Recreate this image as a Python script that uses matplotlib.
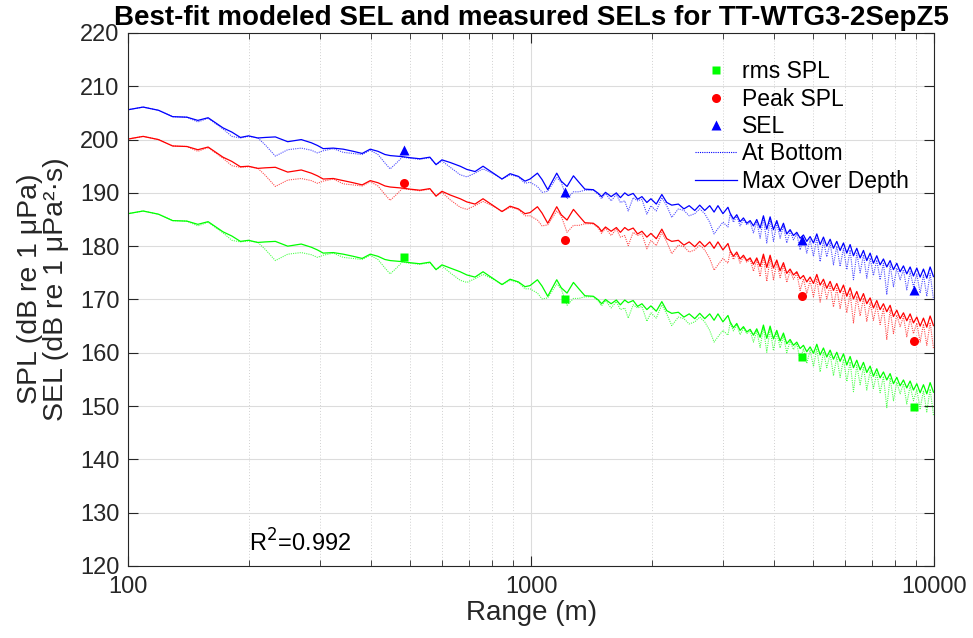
import matplotlib.pyplot as plt
from matplotlib.lines import Line2D
from matplotlib.ticker import FixedLocator, NullFormatter

# modeled range grid (m)
range_m = [
    100, 109, 119, 129, 140, 149, 158, 172, 181, 190,
    199, 210, 219, 232, 249, 269, 285, 295, 305, 323,
    342, 362, 381, 399, 417, 434, 447, 462, 479, 501, 530, 561, 581, 601,
    630, 667, 693, 726, 760, 806, 847, 887, 930, 966,
    994, 1037, 1065, 1100, 1158, 1188, 1228, 1274, 1314, 1360, 1427, 1469,
    1496, 1530, 1580, 1628, 1666, 1708, 1742, 1792, 1838, 1884, 1938, 1983, 2045, 2111,
    2171, 2234, 2320, 2395, 2468, 2548, 2621, 2697, 2775, 2845, 2909, 2993, 3080,
    3118, 3178, 3239, 3301, 3365, 3430, 3496,
    3563, 3631, 3701, 3772, 3845, 3919, 3994,
    4071, 4149, 4229, 4310, 4393, 4478, 4564,
    4652, 4741, 4832, 4925, 5020, 5117, 5215,
    5315, 5417, 5522, 5628, 5736, 5846, 5959,
    6073, 6190, 6309, 6430, 6554, 6680, 6808,
    6939, 7072, 7208, 7347, 7488, 7632, 7779,
    7929, 8081, 8237, 8395, 8556, 8721, 8889,
    9060, 9234, 9411, 9592, 9777, 9965,
]

# SEL, max over depth / at bottom
sel_max = [
    205.6, 206.1, 205.5, 204.3, 204.2, 203.6, 204.1, 202.2, 201.4, 200.4,
    200.7, 200.3, 200.4, 200.5, 199.6, 200.0, 199.4, 198.9, 198.3, 198.4,
    198.2, 197.8, 197.4, 198.2, 197.8, 197.2, 197.0, 196.9, 196.8, 196.6, 196.4, 196.7, 195.3, 196.2,
    195.7, 195.0, 194.4, 194.0, 195.0, 193.7, 192.6, 193.6, 193.1, 192.2,
    192.6, 193.7, 192.5, 190.6, 193.7, 192.2, 191.2, 193.2, 192.0, 190.7, 190.6, 189.9,
    189.3, 190.1, 189.3, 190.0, 189.1, 190.0, 189.5, 189.9, 188.8, 189.3, 188.2, 188.9, 187.9, 189.7,
    188.2, 187.7, 187.9, 187.0, 187.6, 186.7, 187.7, 186.7, 187.6, 186.4, 187.6, 186.1, 187.3,
    186.2, 185.1, 185.9, 184.6, 185.3, 184.3, 184.8,
    183.8, 185.0, 183.4, 185.7, 183.2, 185.5, 183.1,
    184.8, 182.8, 184.3, 182.3, 183.1, 182.0, 182.6,
    181.5, 182.1, 180.9, 181.8, 180.6, 182.3, 180.3,
    181.7, 180.0, 181.3, 179.6, 180.9, 179.2, 180.6,
    178.7, 180.3, 178.2, 179.6, 177.8, 179.2, 177.3,
    178.7, 176.8, 178.2, 176.5, 177.6, 176.1, 177.3,
    175.6, 176.8, 175.2, 176.3, 174.8, 176.1, 174.4,
    175.9, 174.2, 175.7, 174.0, 176.1, 174.3,
]
sel_bot = [
    205.6, 206.1, 205.5, 204.3, 204.2, 203.3, 204.0, 202.0, 200.6, 200.3,
    200.6, 200.3, 199.0, 196.9, 198.1, 198.4, 198.0, 197.5, 197.9, 198.3,
    197.6, 197.4, 197.2, 198.0, 197.2, 195.6, 194.5, 195.5, 196.7, 196.5, 196.3, 196.6, 195.3, 196.0,
    194.8, 193.4, 193.0, 193.7, 194.5, 193.6, 192.6, 193.4, 193.0, 191.8,
    192.0, 191.2, 190.1, 190.3, 192.9, 192.0, 188.9, 190.2, 190.2, 190.5, 190.5, 189.7,
    188.9, 189.9, 188.5, 189.7, 188.2, 188.5, 186.6, 189.1, 188.5, 188.8, 186.0, 187.6, 186.6, 189.1,
    187.6, 185.4, 187.0, 186.7, 185.7, 186.1, 187.0, 186.1, 184.5, 182.3, 183.3, 184.5, 183.6,
    186.0, 184.5, 185.6, 183.8, 185.0, 184.0, 184.5,
    182.5, 184.6, 181.5, 185.2, 180.6, 185.0, 180.9,
    184.3, 181.5, 183.8, 180.6, 182.8, 181.2, 182.3,
    179.3, 181.5, 178.7, 181.2, 178.1, 181.5, 177.1,
    181.0, 178.0, 180.6, 176.5, 180.0, 176.2, 179.6,
    175.6, 179.3, 173.7, 178.7, 175.0, 178.4, 174.0,
    177.8, 174.5, 177.4, 173.7, 176.8, 170.9, 176.5,
    172.4, 175.9, 173.7, 175.6, 171.8, 175.2, 172.4,
    174.8, 171.2, 174.6, 170.6, 174.9, 170.0,
]

# peak SPL, max over depth / at bottom
peak_max = [
    200.1, 200.6, 200.0, 198.8, 198.7, 198.1, 198.6, 196.7, 195.9, 194.9,
    195.0, 194.6, 194.7, 194.8, 193.9, 194.3, 193.7, 193.2, 192.6, 192.7,
    192.3, 191.9, 191.5, 192.3, 191.9, 191.3, 191.1, 191.0, 190.9, 190.7, 190.5, 190.8, 189.4, 190.3,
    189.6, 188.9, 188.3, 187.9, 188.9, 187.6, 186.5, 187.5, 187.0, 186.1,
    186.3, 187.4, 186.2, 184.3, 187.4, 185.9, 184.9, 186.9, 185.7, 184.4, 184.3, 183.6,
    182.8, 183.6, 182.8, 183.5, 182.6, 183.5, 183.0, 183.4, 182.3, 182.8, 181.7, 182.4, 181.4, 183.2,
    181.4, 180.9, 181.1, 180.2, 180.8, 179.9, 180.9, 179.9, 180.8, 179.6, 180.8, 179.3, 180.5,
    179.2, 178.1, 178.9, 177.6, 178.3, 177.3, 177.8,
    176.6, 177.8, 176.2, 178.5, 176.0, 178.3, 175.9,
    177.4, 175.4, 176.9, 174.9, 175.7, 174.6, 175.2,
    173.9, 174.5, 173.3, 174.2, 173.0, 174.7, 172.7,
    173.8, 172.1, 173.4, 171.7, 173.0, 171.3, 172.7,
    170.6, 172.2, 170.1, 171.5, 169.7, 171.1, 169.2,
    170.3, 168.4, 169.8, 168.1, 169.2, 167.7, 168.9,
    166.8, 168.0, 166.4, 167.5, 166.0, 167.3, 165.6,
    166.7, 165.0, 166.5, 164.8, 166.9, 165.1,
]
peak_bot = [
    200.1, 200.6, 200.0, 198.8, 198.7, 197.8, 198.5, 196.5, 195.1, 194.8,
    194.9, 194.6, 193.3, 191.2, 192.4, 192.7, 192.3, 191.8, 192.2, 192.6,
    191.7, 191.5, 191.3, 192.1, 191.3, 189.7, 188.6, 189.6, 190.8, 190.6, 190.4, 190.7, 189.4, 190.1,
    188.7, 187.3, 186.9, 187.6, 188.4, 187.5, 186.5, 187.3, 186.9, 185.7,
    185.7, 184.9, 183.8, 184.0, 186.6, 185.7, 182.6, 183.9, 183.9, 184.2, 184.2, 183.4,
    182.4, 183.4, 182.0, 183.2, 181.7, 182.0, 180.1, 182.6, 182.0, 182.3, 179.5, 181.1, 180.1, 182.6,
    180.8, 178.6, 180.2, 179.9, 178.9, 179.3, 180.2, 179.3, 177.7, 175.5, 176.5, 177.7, 176.8,
    179.0, 177.5, 178.6, 176.8, 178.0, 177.0, 177.5,
    175.3, 177.4, 174.3, 178.0, 173.4, 177.8, 173.7,
    176.9, 174.1, 176.4, 173.2, 175.4, 173.8, 174.9,
    171.7, 173.9, 171.1, 173.6, 170.5, 173.9, 169.5,
    173.1, 170.1, 172.7, 168.6, 172.1, 168.3, 171.7,
    167.5, 171.2, 165.6, 170.6, 166.9, 170.3, 165.9,
    169.4, 166.1, 169.0, 165.3, 168.4, 162.5, 168.1,
    163.6, 167.1, 164.9, 166.8, 163.0, 166.4, 163.6,
    165.6, 162.0, 165.4, 161.4, 165.7, 160.8,
]

# rms SPL, max over depth / at bottom
rms_max = [
    186.1, 186.6, 186.0, 184.8, 184.7, 184.1, 184.6, 182.7, 181.9, 180.9,
    181.1, 180.7, 180.8, 180.9, 180.0, 180.4, 179.8, 179.3, 178.7, 178.8,
    178.5, 178.1, 177.7, 178.5, 178.1, 177.5, 177.3, 177.2, 177.1, 176.9, 176.7, 177.0, 175.6, 176.5,
    175.9, 175.2, 174.6, 174.2, 175.2, 173.9, 172.8, 173.8, 173.3, 172.4,
    172.6, 173.7, 172.5, 170.6, 173.7, 172.2, 171.2, 173.2, 172.0, 170.7, 170.6, 169.9,
    169.2, 170.0, 169.2, 169.9, 169.0, 169.9, 169.4, 169.8, 168.7, 169.2, 168.1, 168.8, 167.8, 169.6,
    167.9, 167.4, 167.6, 166.7, 167.3, 166.4, 167.4, 166.4, 167.3, 166.1, 167.3, 165.8, 167.0,
    165.8, 164.7, 165.5, 164.2, 164.9, 163.9, 164.4,
    163.3, 164.5, 162.9, 165.2, 162.7, 165.0, 162.6,
    164.2, 162.2, 163.7, 161.7, 162.5, 161.4, 162.0,
    160.8, 161.4, 160.2, 161.1, 159.9, 161.6, 159.6,
    160.9, 159.2, 160.5, 158.8, 160.1, 158.4, 159.8,
    157.7, 159.3, 157.2, 158.6, 156.8, 158.2, 156.3,
    157.5, 155.6, 157.0, 155.3, 156.4, 154.9, 156.1,
    154.2, 155.4, 153.8, 154.9, 153.4, 154.7, 153.0,
    154.2, 152.5, 154.0, 152.3, 154.4, 152.6,
]
rms_bot = [
    186.1, 186.6, 186.0, 184.8, 184.7, 183.8, 184.5, 182.5, 181.1, 180.8,
    181.0, 180.7, 179.4, 177.3, 178.5, 178.8, 178.4, 177.9, 178.3, 178.7,
    177.9, 177.7, 177.5, 178.3, 177.5, 175.9, 174.8, 175.8, 177.0, 176.8, 176.6, 176.9, 175.6, 176.3,
    175.0, 173.6, 173.2, 173.9, 174.7, 173.8, 172.8, 173.6, 173.2, 172.0,
    172.0, 171.2, 170.1, 170.3, 172.9, 172.0, 168.9, 170.2, 170.2, 170.5, 170.5, 169.7,
    168.8, 169.8, 168.4, 169.6, 168.1, 168.4, 166.5, 169.0, 168.4, 168.7, 165.9, 167.5, 166.5, 169.0,
    167.3, 165.1, 166.7, 166.4, 165.4, 165.8, 166.7, 165.8, 164.2, 162.0, 163.0, 164.2, 163.3,
    165.6, 164.1, 165.2, 163.4, 164.6, 163.6, 164.1,
    162.0, 164.1, 161.0, 164.7, 160.1, 164.5, 160.4,
    163.7, 160.9, 163.2, 160.0, 162.2, 160.6, 161.7,
    158.6, 160.8, 158.0, 160.5, 157.4, 160.8, 156.4,
    160.2, 157.2, 159.8, 155.7, 159.2, 155.4, 158.8,
    154.6, 158.3, 152.7, 157.7, 154.0, 157.4, 153.0,
    156.6, 153.3, 156.2, 152.5, 155.6, 149.7, 155.3,
    151.0, 154.5, 152.3, 154.2, 150.4, 153.8, 151.0,
    153.1, 149.5, 152.9, 148.9, 153.2, 148.3,
]

# measured levels
meas_range = [484, 1216, 4700, 8920]
meas_rms = [178.0, 170.1, 159.3, 149.9]
meas_peak = [191.9, 181.2, 170.7, 162.2]
meas_sel = [198.0, 190.1, 181.1, 171.7]
r_squared = 0.992

plt.rcParams['font.family'] = ['Liberation Sans', 'DejaVu Sans']

fig = plt.figure(figsize=(9.73, 6.38), dpi=100)
ax = fig.add_axes([0.1316, 0.1129, 0.8284, 0.8354])

dot = (0, (1, 1))
for y_max, y_bot, col in [(rms_max, rms_bot, '#00ff00'),
                          (peak_max, peak_bot, '#ff0000'),
                          (sel_max, sel_bot, '#0000ff')]:
    ax.plot(range_m, y_bot, color=col, lw=0.8, ls=dot, alpha=0.7)
    ax.plot(range_m, y_max, color=col, lw=0.9)

ax.plot(meas_range, meas_rms, 's', color='#00ff00', ms=5.5, mec='none')
ax.plot(meas_range, meas_peak, 'o', color='#ff0000', ms=6.5, mec='none')
ax.plot(meas_range, meas_sel, '^', color='#0000ff', ms=7, mec='none')

ax.set_xscale('log')
ax.set_xlim(100, 10000)
ax.set_ylim(120, 220)
ax.set_yticks(range(120, 221, 10))
ax.set_xticks([100, 1000, 10000])
ax.set_xticklabels(['100', '1000', '10000'])
ax.xaxis.set_minor_locator(FixedLocator([m * d for d in (100, 1000) for m in range(2, 10)]))
ax.xaxis.set_minor_formatter(NullFormatter())

axis_col = '#262626'
ax.grid(True, which='major', color='#dcdcdc', lw=0.8)
ax.grid(True, which='minor', axis='x', color='#d0d0d0', lw=0.7, ls=(0, (1, 2)))
ax.set_axisbelow(True)
ax.tick_params(which='both', direction='in', top=True, right=True, colors=axis_col,
               labelsize=17)
ax.tick_params(which='major', length=7, width=0.8)
ax.tick_params(which='minor', length=4, width=0.6)
ax.tick_params(axis='x', which='major', pad=7)
ax.tick_params(axis='y', which='major', pad=6)
for s in ax.spines.values():
    s.set_color(axis_col)
    s.set_linewidth(0.8)

ax.set_title('Best-fit modeled SEL and measured SELs for TT-WTG3-2SepZ5',
             fontsize=20, fontweight='bold', pad=6)
ax.set_xlabel('Range (m)', fontsize=20, color=axis_col, labelpad=2)
ax.set_ylabel('SPL (dB re 1 μPa)\nSEL (dB re 1 μPa²·s)', fontsize=20.5,
              color=axis_col, linespacing=1.0)
ax.yaxis.set_label_coords(-0.073, 0.52)

ax.text(200, 124.3, f'R$^2$={r_squared}', fontsize=17, va='center', ha='left')

handles = [
    Line2D([], [], ls='none', marker='s', color='#00ff00', ms=5.5, mec='none'),
    Line2D([], [], ls='none', marker='o', color='#ff0000', ms=6.5, mec='none'),
    Line2D([], [], ls='none', marker='^', color='#0000ff', ms=7, mec='none'),
    Line2D([], [], color='#0000ff', lw=0.8, ls=dot),
    Line2D([], [], color='#0000ff', lw=0.9),
]
labels = ['rms SPL', 'Peak SPL', 'SEL', 'At Bottom', 'Max Over Depth']
ax.legend(handles, labels, loc='upper left', bbox_to_anchor=(0.704, 0.949),
          frameon=False, fontsize=16.5, handlelength=1.8, handletextpad=0.25,
          labelspacing=0.19, borderaxespad=0, borderpad=0)

fig.savefig('out.png', dpi=100)
